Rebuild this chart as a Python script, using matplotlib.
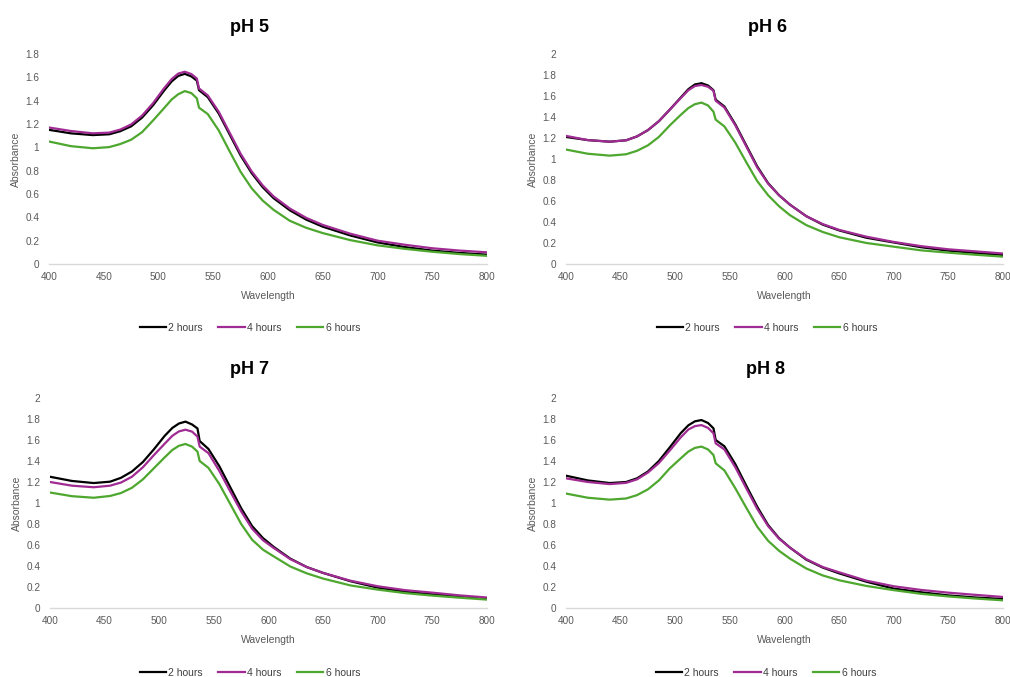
import matplotlib
matplotlib.use("Agg")
import matplotlib.pyplot as plt

wavelength = [400, 420, 440, 455, 465, 475, 485, 495, 505, 512, 518, 524, 530, 535, 537,
              545, 555, 565, 575, 585, 595, 605, 620, 635, 650, 675, 700, 725, 750, 775, 800]

series_labels = ["2 hours", "4 hours", "6 hours"]
series_colors = ["#000000", "#A02B93", "#4EA72E"]

ph5_2h = [1.15, 1.12, 1.105, 1.112, 1.138, 1.18, 1.255, 1.36, 1.485, 1.565, 1.612, 1.63, 1.608, 1.572, 1.49,
          1.43, 1.29, 1.11, 0.93, 0.78, 0.66, 0.565, 0.46, 0.38, 0.32, 0.245, 0.185, 0.145, 0.115, 0.095, 0.08]
ph5_4h = [1.17, 1.14, 1.12, 1.126, 1.152, 1.196, 1.272, 1.378, 1.505, 1.585, 1.632, 1.648, 1.628, 1.59, 1.505,
          1.445, 1.305, 1.125, 0.945, 0.795, 0.675, 0.58, 0.475, 0.395, 0.335, 0.26, 0.20, 0.165, 0.135, 0.115, 0.10]
ph5_6h = [1.05, 1.01, 0.992, 1.002, 1.028, 1.065, 1.13, 1.23, 1.335, 1.41, 1.455, 1.482, 1.465, 1.42, 1.34,
          1.285, 1.145, 0.965, 0.79, 0.65, 0.545, 0.465, 0.37, 0.31, 0.265, 0.205, 0.16, 0.13, 0.105, 0.085, 0.07]

ph6_2h = [1.21, 1.18, 1.165, 1.178, 1.215, 1.275, 1.36, 1.47, 1.585, 1.665, 1.71, 1.722, 1.70, 1.655, 1.565,
          1.50, 1.33, 1.13, 0.93, 0.77, 0.655, 0.565, 0.455, 0.375, 0.32, 0.25, 0.205, 0.16, 0.127, 0.105, 0.086]
ph6_4h = [1.22, 1.18, 1.165, 1.178, 1.215, 1.275, 1.36, 1.47, 1.58, 1.655, 1.695, 1.705, 1.688, 1.65, 1.555,
          1.49, 1.32, 1.12, 0.92, 0.765, 0.655, 0.565, 0.455, 0.38, 0.325, 0.26, 0.21, 0.17, 0.14, 0.12, 0.10]
ph6_6h = [1.09, 1.05, 1.032, 1.045, 1.078, 1.13, 1.21, 1.32, 1.42, 1.485, 1.522, 1.537, 1.51, 1.45, 1.375,
          1.31, 1.155, 0.97, 0.79, 0.655, 0.55, 0.465, 0.37, 0.305, 0.255, 0.20, 0.165, 0.13, 0.108, 0.088, 0.07]

ph7_2h = [1.25, 1.21, 1.19, 1.203, 1.24, 1.30, 1.39, 1.51, 1.64, 1.715, 1.757, 1.775, 1.748, 1.71, 1.59,
          1.515, 1.35, 1.15, 0.95, 0.78, 0.665, 0.58, 0.47, 0.39, 0.334, 0.255, 0.194, 0.155, 0.13, 0.11, 0.09]
ph7_4h = [1.20, 1.165, 1.15, 1.165, 1.195, 1.25, 1.34, 1.455, 1.565, 1.64, 1.682, 1.698, 1.68, 1.632, 1.537,
          1.475, 1.305, 1.11, 0.92, 0.755, 0.645, 0.57, 0.465, 0.39, 0.334, 0.26, 0.207, 0.17, 0.146, 0.12, 0.10]
ph7_6h = [1.10, 1.065, 1.05, 1.067, 1.095, 1.145, 1.225, 1.33, 1.435, 1.505, 1.545, 1.562, 1.537, 1.489, 1.40,
          1.335, 1.18, 0.99, 0.80, 0.65, 0.555, 0.49, 0.395, 0.33, 0.28, 0.215, 0.175, 0.142, 0.118, 0.098, 0.08]

ph8_2h = [1.26, 1.215, 1.19, 1.20, 1.235, 1.30, 1.40, 1.53, 1.665, 1.74, 1.778, 1.79, 1.762, 1.711, 1.60,
          1.54, 1.37, 1.165, 0.965, 0.79, 0.665, 0.575, 0.46, 0.385, 0.33, 0.25, 0.185, 0.15, 0.12, 0.10, 0.086]
ph8_4h = [1.235, 1.20, 1.18, 1.192, 1.225, 1.29, 1.38, 1.50, 1.625, 1.70, 1.732, 1.742, 1.715, 1.664, 1.568,
          1.51, 1.34, 1.14, 0.945, 0.78, 0.66, 0.575, 0.465, 0.39, 0.34, 0.26, 0.207, 0.172, 0.146, 0.125, 0.105]
ph8_6h = [1.09, 1.05, 1.032, 1.043, 1.075, 1.13, 1.215, 1.33, 1.425, 1.49, 1.525, 1.537, 1.51, 1.457, 1.378,
          1.31, 1.14, 0.955, 0.775, 0.64, 0.545, 0.47, 0.376, 0.31, 0.264, 0.21, 0.17, 0.135, 0.11, 0.09, 0.073]

panel_titles = ["pH 5", "pH 6", "pH 7", "pH 8"]
panel_data = [(ph5_2h, ph5_4h, ph5_6h), (ph6_2h, ph6_4h, ph6_6h),
              (ph7_2h, ph7_4h, ph7_6h), (ph8_2h, ph8_4h, ph8_6h)]
panel_ymax = [1.8, 2.0, 2.0, 2.0]
x_ticks = [400, 450, 500, 550, 600, 650, 700, 750, 800]

plt.rcParams['font.family'] = ['Liberation Sans', 'DejaVu Sans']

W, H = 1010, 677
fig = plt.figure(figsize=(W / 100, H / 100), dpi=100)

# pixel boxes: (left, right, top, bottom), title/legend center x, title y, legend y
boxes = [
    (49, 487, 54, 264, 250, 27, 328),
    (566, 1003, 54, 264, 767, 27, 328),
    (50, 487, 398, 608, 250, 370, 673),
    (566, 1003, 398, 608, 766, 370, 673),
]

tick_color = "#595959"
for i, (l, r, t, b, cx, ty, ly) in enumerate(boxes):
    ax = fig.add_axes([l / W, 1 - b / H, (r - l) / W, (b - t) / H])
    handles = []
    for vals, lab, col in zip(panel_data[i], series_labels, series_colors):
        h, = ax.plot(wavelength, vals, color=col, lw=1.6, label=lab,
                     solid_joinstyle="round")
        handles.append(h)
    ax.set_xlim(400, 800)
    ax.set_ylim(0, panel_ymax[i])
    ax.set_xticks(x_ticks)
    ax.set_xticklabels([str(v) for v in x_ticks])
    yt = [round(0.2 * k, 1) for k in range(int(round(panel_ymax[i] / 0.2)) + 1)]
    ax.set_yticks(yt)
    ax.set_yticklabels([f"{v:g}" for v in yt])
    for s in ["top", "right", "left"]:
        ax.spines[s].set_visible(False)
    ax.spines["bottom"].set_color("#d9d9d9")
    ax.spines["bottom"].set_linewidth(1.0)
    ax.tick_params(axis="both", length=0, labelsize=7.2, colors=tick_color)
    ax.tick_params(axis="x", pad=6)
    ax.tick_params(axis="y", pad=7)
    ax.set_xlabel("Wavelength", fontsize=7.5, color=tick_color, labelpad=6)
    ax.set_ylabel("Absorbance", fontsize=7.5, color=tick_color, labelpad=3)
    fig.text(cx / W, 1 - ty / H, panel_titles[i], ha="center", va="center",
             fontsize=13, fontweight="bold", color="#000000")
    fig.legend(handles=handles, loc="center", bbox_to_anchor=(cx / W, 1 - ly / H),
               ncol=3, frameon=False, fontsize=7.5, handlelength=2.5,
               handletextpad=0.25, columnspacing=1.5, labelcolor="#404040")

fig.savefig("out.png", dpi=100)
